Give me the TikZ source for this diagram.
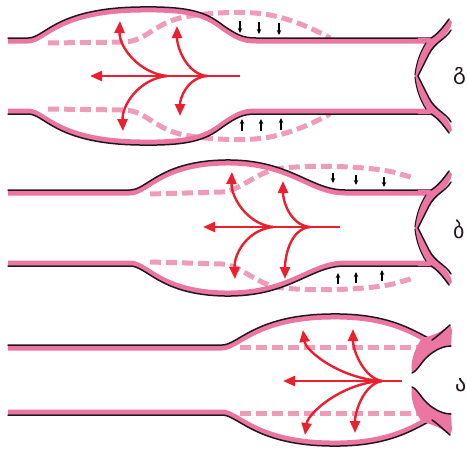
\documentclass[tikz,border=0pt]{standalone}
\usepackage{fontspec}
\newfontfamily\geofont{DejaVu Sans}
\usetikzlibrary{arrows.meta}

\definecolor{wallpink}{RGB}{236,118,162}
\definecolor{shadowpink}{RGB}{238,156,184}
\definecolor{flowred}{RGB}{234,32,48}
\definecolor{inkline}{RGB}{35,20,30}

\tikzset{
  wallline/.style={draw=inkline, line width=1.5pt, line cap=round, line join=round},
  wallband/.style={draw=wallpink, line width=5pt},
  shiftedwall/.style={draw=shadowpink, line width=5pt, dash pattern=on 11pt off 5pt},
  flow/.style={draw=flowred, line width=2.4pt, -{Triangle[length=12pt,width=10pt]}},
  squeeze/.style={draw=black, line width=1.3pt, -{Stealth[length=5pt,width=4.5pt]}},
  tag/.style={font=\geofont\fontsize{22}{22}\selectfont, text=inkline, inner sep=0pt}
}

% upper wall profiles, measured from the tube axis (y grows downwards)
\newcommand\wallprofileA[1]{\draw[#1] (8,-38) -- (28,-38) .. controls (45,-38) and (55,-68) .. (140,-69) .. controls (195,-70) and (208,-62) .. (224,-50) .. controls (236,-42) and (242,-38) .. (256,-38) -- (431,-38);}
\newcommand\wallprofileB[1]{\draw[#1] (8,-38) -- (130,-38) .. controls (147,-38) and (160,-67) .. (225,-68) .. controls (290,-69) and (310,-38) .. (345,-38) -- (431,-38);}
\newcommand\wallprofileC[1]{\draw[#1] (8,-35) -- (222,-35) .. controls (238,-35) and (255,-65) .. (330,-66) .. controls (385,-67) and (410,-52) .. (432,-40);}

% dashed outline of the wall a moment later
\newcommand\shadowA{\draw[shiftedwall] (48,-33) -- (125,-34) .. controls (145,-35) and (155,-52) .. (180,-58) .. controls (200,-63) and (245,-66) .. (270,-61) .. controls (295,-56) and (315,-46) .. (330,-38);}
\newcommand\shadowB{\draw[shiftedwall] (150,-34) -- (222,-36) .. controls (240,-37) and (255,-55) .. (277,-59) .. controls (300,-63) and (360,-63) .. (393,-56) .. controls (400,-54) and (408,-52) .. (413,-50);}
\newcommand\shadowC{\draw[shiftedwall] (240,-33) -- (420,-33);}

% one leaflet of the valve, closed and open
\newcommand\closedleaf{%
  \fill[wallpink] (418,-38) -- (431,-38) .. controls (438,-42) and (444,-50) .. (449,-57)
     -- (452,-54) .. controls (450,-40) and (436,-36) .. (429,-22) .. controls (425,-14) and (421,-6) .. (418,0)
     -- (415,0) .. controls (416,-12) and (420,-24) .. (426,-33) -- (418,-33) -- cycle;
  \draw[wallline] (431,-38) .. controls (438,-42) and (444,-50) .. (449,-57);
  \draw[wallline] (451,-46) .. controls (446,-37) and (435,-34) .. (429,-22) .. controls (425,-14) and (421,-6) .. (418,0);
  \draw[wallline, line width=1.1pt] (426,-33) .. controls (420,-24) and (416,-12) .. (415,-1);
}
\newcommand\openleaf{%
  \fill[wallpink] (422,-42) .. controls (436,-45) and (444,-50) .. (450,-55) -- (452,-50) -- (451,-34)
     .. controls (440,-34) and (428,-26) .. (421,-16) .. controls (418,-12) and (415,-8) .. (412,-7)
     .. controls (410,-16) and (414,-30) .. (420,-39) -- cycle;
  \draw[wallline] (432,-40) .. controls (438,-44) and (444,-50) .. (450,-55);
  \draw[wallline] (451,-34) .. controls (440,-34) and (428,-26) .. (421,-16) .. controls (418,-12) and (415,-8) .. (412,-7);
}

\begin{document}
\begin{tikzpicture}[x=1pt,y=-1pt]
\useasboundingbox (0,0) rectangle (467,451);

% ---------- tube 1 ----------
\begin{scope}[shift={(0,76)}] \shadowA \end{scope}
\begin{scope}[shift={(0,76)},yscale=-1] \shadowA \end{scope}
\begin{scope}[shift={(0,76)}]
  \wallprofileA{wallband, shift={(0,3)}} \wallprofileA{wallline} \closedleaf
\end{scope}
\begin{scope}[shift={(0,76)},yscale=-1]
  \wallprofileA{wallband, shift={(0,3)}} \wallprofileA{wallline} \closedleaf
\end{scope}

% ---------- tube 2 ----------
\begin{scope}[shift={(0,228)}] \shadowB \end{scope}
\begin{scope}[shift={(0,228)},yscale=-1] \shadowB \end{scope}
\begin{scope}[shift={(0,228)}]
  \wallprofileB{wallband, shift={(0,3)}} \wallprofileB{wallline} \closedleaf
\end{scope}
\begin{scope}[shift={(0,228)},yscale=-1]
  \wallprofileB{wallband, shift={(0,3)}} \wallprofileB{wallline} \closedleaf
\end{scope}

% ---------- tube 3 ----------
\begin{scope}[shift={(0,380)}] \shadowC \end{scope}
\begin{scope}[shift={(0,380)},yscale=-1] \shadowC \end{scope}
\begin{scope}[shift={(0,380)}]
  \wallprofileC{wallband, shift={(0,3)}} \wallprofileC{wallline} \openleaf
\end{scope}
\begin{scope}[shift={(0,380)},yscale=-1]
  \wallprofileC{wallband, shift={(0,3)}} \wallprofileC{wallline} \openleaf
\end{scope}

% ---------- small pressure arrows ----------
\foreach \x/\a/\b in {240/21/33, 259/22/34, 279/23/35} \draw[squeeze] (\x,\a) -- (\x,\b);
\foreach \x/\a/\b in {242/131/119, 261/131/119, 281/130/118} \draw[squeeze] (\x,\a) -- (\x,\b);
\foreach \x/\a/\b in {333/173/183, 356/175/185, 384/177/187} \draw[squeeze] (\x,\a) -- (\x,\b);
\foreach \x/\a/\b in {338/284/273, 356/283/272, 382/281/270} \draw[squeeze] (\x,\a) -- (\x,\b);

% ---------- flow in tube 1 ----------
\coordinate (p1-in) at (240,76);
\coordinate (p1-out) at (90,76);
\coordinate (p1-fork1) at (207,76);
\coordinate (p1-fork2) at (167,76);
\coordinate (p1-up1) at (177,26);
\coordinate (p1-up2) at (120,21);
\coordinate (p1-dn1) at (180,116);
\coordinate (p1-dn2) at (123,131);
\draw[flow] (p1-in) -- (p1-out);
\draw[flow] (p1-fork1) .. controls +(-20,-2) and +(0,22) .. (p1-up1);
\draw[flow] (p1-fork2) .. controls +(-28,-3) and +(-1,26) .. (p1-up2);
\draw[flow] (p1-fork1) .. controls +(-20,2) and +(0,-18) .. (p1-dn1);
\draw[flow] (p1-fork2) .. controls +(-28,3) and +(-1,-26) .. (p1-dn2);

% ---------- flow in tube 2 ----------
\coordinate (p2-in) at (340,227);
\coordinate (p2-out) at (203,227);
\coordinate (p2-fork1) at (310,227);
\coordinate (p2-fork2) at (273,227);
\coordinate (p2-up1) at (283,181);
\coordinate (p2-up2) at (232,172);
\coordinate (p2-dn1) at (285,279);
\coordinate (p2-dn2) at (235,279);
\draw[flow] (p2-in) -- (p2-out);
\draw[flow] (p2-fork1) .. controls +(-20,-2) and +(0,20) .. (p2-up1);
\draw[flow] (p2-fork2) .. controls +(-26,-3) and +(-1,25) .. (p2-up2);
\draw[flow] (p2-fork1) .. controls +(-20,2) and +(0,-22) .. (p2-dn1);
\draw[flow] (p2-fork2) .. controls +(-26,3) and +(-1,-25) .. (p2-dn2);

% ---------- flow in tube 3 ----------
\coordinate (p3-in) at (402,381);
\coordinate (p3-out) at (283,381);
\coordinate (p3-fork) at (382,381);
\coordinate (p3-up1) at (353,329);
\coordinate (p3-up2) at (303,330);
\coordinate (p3-dn1) at (355,433);
\coordinate (p3-dn2) at (305,435);
\draw[flow] (p3-in) -- (p3-out);
\draw[flow] (p3-fork) .. controls +(-18,-3) and +(0,22) .. (p3-up1);
\draw[flow] (p3-fork) .. controls +(-40,-2) and +(3,22) .. (p3-up2);
\draw[flow] (p3-fork) .. controls +(-18,3) and +(0,-22) .. (p3-dn1);
\draw[flow] (p3-fork) .. controls +(-40,2) and +(3,-22) .. (p3-dn2);

% ---------- labels ----------
\node[tag, anchor=base west] (lab-g) at (453,79) {გ};
\node[tag, anchor=base west] (lab-b) at (453,238) {ბ};
\node[tag, anchor=base west] (lab-a) at (455,391) {ა};
\end{tikzpicture}
\end{document}
